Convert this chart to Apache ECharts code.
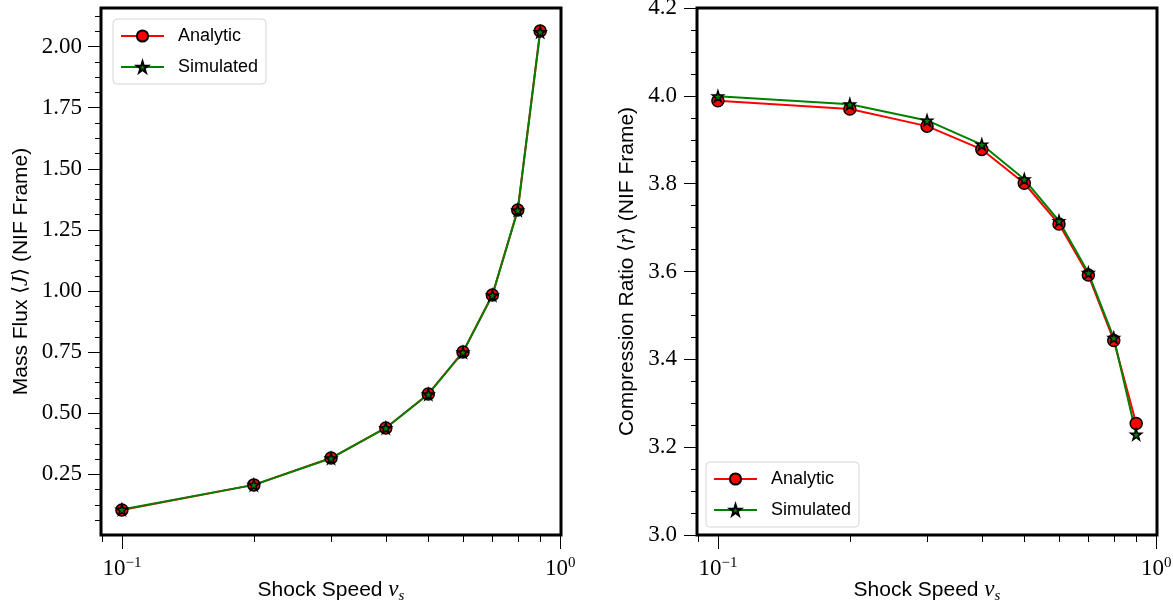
<!DOCTYPE html>
<html>
<head>
<meta charset="utf-8">
<script src="https://cdn.jsdelivr.net/npm/echarts@6/dist/echarts.min.js"></script>
<style>
html, body { margin: 0; padding: 0; background: #fff; }
#chart { width: 1173px; height: 606px; }
</style>
</head>
<body>
<div id="chart"></div>
<script>
// shock speed v_s (log axis)
const shockSpeeds = [0.1, 0.2, 0.3, 0.4, 0.5, 0.6, 0.7, 0.8, 0.9];
const massFluxAnalytic = [0.104, 0.207, 0.317, 0.440, 0.579, 0.751, 0.984, 1.332, 2.064];
const massFluxSimulated = [0.106, 0.207, 0.316, 0.440, 0.578, 0.750, 0.983, 1.331, 2.060];
const ratioAnalytic = [3.989, 3.970, 3.931, 3.878, 3.801, 3.708, 3.592, 3.443, 3.254];
const ratioSimulated = [3.999, 3.981, 3.944, 3.889, 3.810, 3.715, 3.597, 3.449, 3.229];

const speedTicks = [0.1, 1];
const speedMinorTicks = [0.09, 0.2, 0.3, 0.4, 0.5, 0.6, 0.7, 0.8, 0.9];
const fluxTicks = [0.25, 0.5, 0.75, 1.0, 1.25, 1.5, 1.75, 2.0];
const fluxMinorTicks = [0.0625, 0.125, 0.1875, 0.3125, 0.375, 0.4375, 0.5625, 0.625, 0.6875,
  0.8125, 0.875, 0.9375, 1.0625, 1.125, 1.1875, 1.3125, 1.375, 1.4375, 1.5625, 1.625, 1.6875,
  1.8125, 1.875, 1.9375, 2.0625, 2.125];

const SERIF = "'Liberation Serif', 'DejaVu Serif', serif";
const SANS = "'Liberation Sans', 'DejaVu Sans', sans-serif";
const STAR = "path://M50,0 L61,35 L98,35 L68,57 L79,91 L50,70 L21,91 L32,57 L2,35 L39,35 Z";

const pairs = (xs, ys) => xs.map((x, i) => [x, ys[i]]);

const powLabel = (v) => {
    const p = Math.round(Math.log10(v));
    return `{b|10}{s|${p < 0 ? "\u2212" : ""}${Math.abs(p)}}`;
};

const tickFont = { fontFamily: SERIF, fontSize: 23, color: "#000" };

const nameRich = {
    t: { fontFamily: SANS, fontSize: 21, color: "#000", lineHeight: 28 },
    br: { fontFamily: "'DejaVu Sans', sans-serif", fontSize: 20, color: "#000", lineHeight: 28 },
    i: { fontFamily: SERIF, fontStyle: "italic", fontSize: 23, color: "#000", lineHeight: 28 },
    sub: { fontFamily: SERIF, fontStyle: "italic", fontSize: 15, color: "#000", lineHeight: 18, verticalAlign: "bottom" }
};

const speedAxis = (grid) => ({
    type: "log", gridIndex: grid, position: "bottom",
    min: 0.0896, max: 1.004, logBase: 10,
    name: "{t|Shock Speed }{i|v}{sub|s}",
    nameLocation: "middle", nameGap: 41, nameMoveOverlap: false,
    nameTextStyle: { rich: nameRich },
    axisLine: { show: false },
    axisTick: { show: true, length: 14, customValues: speedTicks, lineStyle: { color: "#000", width: 1 } },
    axisLabel: {
        customValues: speedTicks, margin: 21, formatter: powLabel,
        rich: {
            b: { fontFamily: SERIF, fontSize: 23, color: "#000", lineHeight: 26 },
            s: { fontFamily: SERIF, fontSize: 15, color: "#000", lineHeight: 14, verticalAlign: "top" }
        }
    },
    splitLine: { show: false }
});

const speedMinorAxis = (grid) => ({
    type: "log", gridIndex: grid, position: "bottom",
    min: 0.0896, max: 1.004, logBase: 10,
    axisLine: { show: false },
    axisTick: { show: true, length: 7, customValues: speedMinorTicks, lineStyle: { color: "#000", width: 1 } },
    axisLabel: { show: false },
    splitLine: { show: false }
});

const lineSeries = (name, xi, yi, data, color, symbol, size) => ({
    name, type: "line", xAxisIndex: xi, yAxisIndex: yi, data,
    symbol, symbolSize: size, showAllSymbol: true,
    lineStyle: { color, width: 2 },
    itemStyle: { color, borderColor: "#000", borderWidth: 1.5 },
    emphasis: { disabled: true },
    animation: false, clip: false, z: 2
});

const legendBox = (left, top) => ({
    left, top, orient: "vertical",
    data: ["Analytic", "Simulated"],
    itemWidth: 43, itemHeight: 14, itemGap: 13,
    padding: [8, 8, 8, 7],
    backgroundColor: "#fff", borderColor: "#d6d6d6", borderWidth: 1, borderRadius: 4,
    textStyle: { fontFamily: SANS, fontSize: 18, color: "#000", padding: [0, 0, 0, 9] },
    selectedMode: false
});

const gridBox = (left) => ({
    left, top: 8, width: 460, height: 527,
    outerBoundsMode: "none", containLabel: false,
    show: true, borderColor: "#000", borderWidth: 3, backgroundColor: "transparent"
});

const chart = echarts.init(document.getElementById("chart"), null, { renderer: "canvas" });

chart.setOption({
    animation: false,
    backgroundColor: "#fff",
    grid: [gridBox(101), gridBox(697)],
    legend: [legendBox(113, 19), legendBox(706, 462)],
    xAxis: [speedAxis(0), speedMinorAxis(0), speedAxis(1), speedMinorAxis(1)],
    yAxis: [
        {
            type: "value", gridIndex: 0, min: 0.002, max: 2.158,
            name: "{t|Mass Flux }{br|\u27E8}{i|J}{br|\u27E9}{t| (NIF Frame)}",
            nameLocation: "middle", nameGap: 66, nameMoveOverlap: false, nameTextStyle: { rich: nameRich },
            axisLine: { show: false },
            axisTick: { show: true, length: 13, customValues: fluxTicks, lineStyle: { color: "#000" } },
            axisLabel: { customValues: fluxTicks, margin: 19, ...tickFont, formatter: (v) => v.toFixed(2) },
            splitLine: { show: false }
        },
        {
            type: "value", gridIndex: 0, position: "left", min: 0.002, max: 2.158,
            axisLine: { show: false },
            axisTick: { show: true, length: 6, customValues: fluxMinorTicks, lineStyle: { color: "#000" } },
            axisLabel: { show: false },
            splitLine: { show: false }
        },
        {
            type: "value", gridIndex: 1, min: 3.0, max: 4.2, interval: 0.2,
            name: "{t|Compression Ratio }{br|\u27E8}{i|r}{br|\u27E9}{t| (NIF Frame)}",
            nameLocation: "middle", nameGap: 56, nameMoveOverlap: false, nameTextStyle: { rich: nameRich },
            axisLine: { show: false },
            axisTick: { show: true, length: 13, lineStyle: { color: "#000" } },
            minorTick: { show: true, splitNumber: 4, length: 6, lineStyle: { color: "#000" } },
            axisLabel: { margin: 20, ...tickFont, formatter: (v) => v.toFixed(1) },
            splitLine: { show: false }
        }
    ],
    series: [
        lineSeries("Analytic", 0, 0, pairs(shockSpeeds, massFluxAnalytic), "#ff0000", "circle", 12),
        lineSeries("Simulated", 0, 0, pairs(shockSpeeds, massFluxSimulated), "#008000", STAR, 11),
        lineSeries("Analytic", 2, 2, pairs(shockSpeeds, ratioAnalytic), "#ff0000", "circle", 12),
        lineSeries("Simulated", 2, 2, pairs(shockSpeeds, ratioSimulated), "#008000", STAR, 11)
    ]
});
</script>
</body>
</html>
